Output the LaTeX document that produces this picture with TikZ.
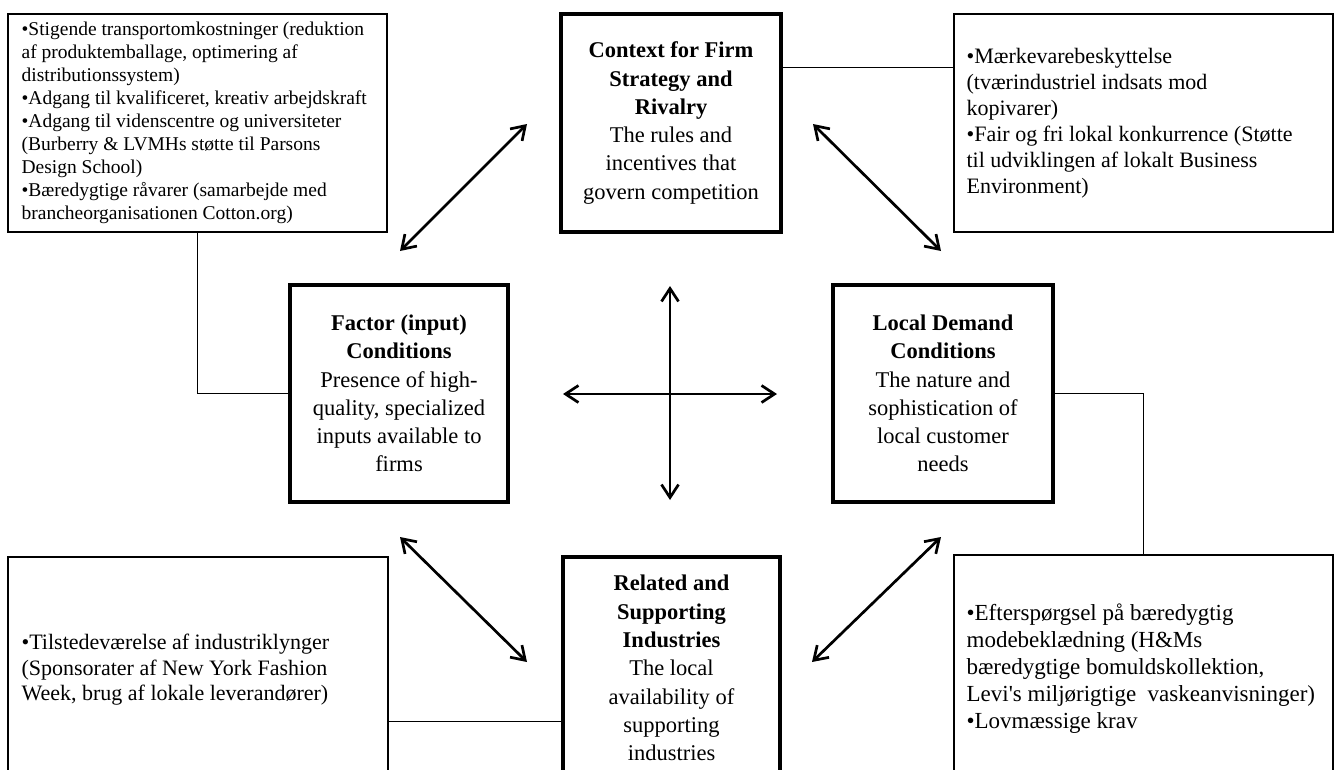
\documentclass[tikz,border=0pt]{standalone}
\usepackage{fontspec}
\setmainfont{Liberation Serif}
\usetikzlibrary{arrows.meta,calc}

\begin{document}
\begin{tikzpicture}[x=1pt,y=-1pt,
  force/.style={draw, line width=3.4pt, align=center, inner sep=0pt,
    font=\fontsize{22.5}{28.3}\selectfont},
  notebox/.style={draw, line width=1.2pt, inner sep=0pt},
  notetext/.style={align=left, inner sep=0pt, anchor=west},
  link/.style={line width=1.2pt},
  dbl/.style={line width=2.7pt,
    {Straight Barb[length=13pt,width=17pt]}-{Straight Barb[length=13pt,width=17pt]}}]

\useasboundingbox (0,0) rectangle (1339,769);
\clip (0,0) rectangle (1339,769);

% the four determinants
\node[force, minimum width=220pt, minimum height=218pt] (C) at (671,123)
  {\textbf{Context for Firm}\\\textbf{Strategy and}\\\textbf{Rivalry}\\The rules and\\incentives that\\govern competition};
\node[force, minimum width=218pt, minimum height=217pt] (F) at (399,393.5)
  {\textbf{Factor (input)}\\\textbf{Conditions}\\Presence of high-\\quality, specialized\\inputs available to\\firms};
\node[force, minimum width=220pt, minimum height=217pt] (D) at (943,393.5)
  {\textbf{Local Demand}\\\textbf{Conditions}\\The nature and\\sophistication of\\local customer\\needs};
\node[force, minimum width=217pt, minimum height=222pt] (R) at (671.5,668)
  {\textbf{Related and}\\\textbf{Supporting}\\\textbf{Industries}\\The local\\availability of\\supporting\\industries};

% note boxes
\node[notebox, minimum width=379pt, minimum height=218pt] (TL) at (197.5,123) {};
\node[notetext, font=\fontsize{19.5}{23}\selectfont] (TLt) at ([xshift=14pt]TL.west)
  {•Stigende transportomkostninger (reduktion\\
   af produktemballage, optimering af\\
   distributionssystem)\\
   •Adgang til kvalificeret, kreativ arbejdskraft\\
   •Adgang til videnscentre og universiteter\\
   (Burberry \& LVMHs støtte til Parsons\\
   Design School)\\
   •Bæredygtige råvarer (samarbejde med\\
   brancheorganisationen Cotton.org)};

\node[notebox, minimum width=379pt, minimum height=218pt] (TR) at (1143.5,123) {};
\node[notetext, font=\fontsize{22}{26}\selectfont] (TRt) at ([xshift=13pt]TR.west)
  {•Mærkevarebeskyttelse\\
   (tværindustriel indsats mod\\
   kopivarer)\\
   •Fair og fri lokal konkurrence (Støtte\\
   til udviklingen af lokalt Business\\
   Environment)};

\node[notebox, minimum width=380pt, minimum height=226pt] (BL) at (198,670) {};
\node[notetext, font=\fontsize{22}{25.5}\selectfont] (BLt) at ([xshift=14pt]BL.west)
  {•Tilstedeværelse af industriklynger\\
   (Sponsorater af New York Fashion\\
   Week, brug af lokale leverandører)};

\node[notebox, minimum width=379pt, minimum height=228pt] (BR) at (1143.5,669) {};
\node[notetext, font=\fontsize{23}{27}\selectfont] (BRt) at ([xshift=13pt]BR.west)
  {•Efterspørgsel på bæredygtig\\
   modebeklædning (H\&Ms\\
   bæredygtige bomuldskollektion,\\
   Levi\textquotesingle s miljørigtige\ \ vaskeanvisninger)\\
   •Lovmæssige krav};

% lines tying each note to its determinant
\draw[link] (TL.south) |- (F.west);
\coordinate (Cl) at ($(C.north east)!0.25!(C.south east)$);
\draw[link] (Cl) -- (Cl -| TR.west);
\draw[link] (D.east) -| (BR.north);
\coordinate (Rl) at ($(R.north west)!0.739!(R.south west)$);
\draw[link] (Rl) -- (Rl -| BL.east);

% interaction arrows
\coordinate (a1s) at (400,251);  \coordinate (a1e) at (527,124);
\coordinate (a2s) at (813,124);  \coordinate (a2e) at (941,251);
\coordinate (a3s) at (400,537);  \coordinate (a3e) at (527,662);
\coordinate (a4s) at (941,537);  \coordinate (a4e) at (812,662);
\coordinate (vs) at (670,286);   \coordinate (ve) at (670,500);
\coordinate (hs) at (563,394);   \coordinate (he) at (777,394);
\draw[dbl] (a1s) -- (a1e);
\draw[dbl] (a2s) -- (a2e);
\draw[dbl] (a3s) -- (a3e);
\draw[dbl] (a4s) -- (a4e);
\draw[dbl] (vs) -- (ve);
\draw[dbl] (hs) -- (he);
\end{tikzpicture}
\end{document}
